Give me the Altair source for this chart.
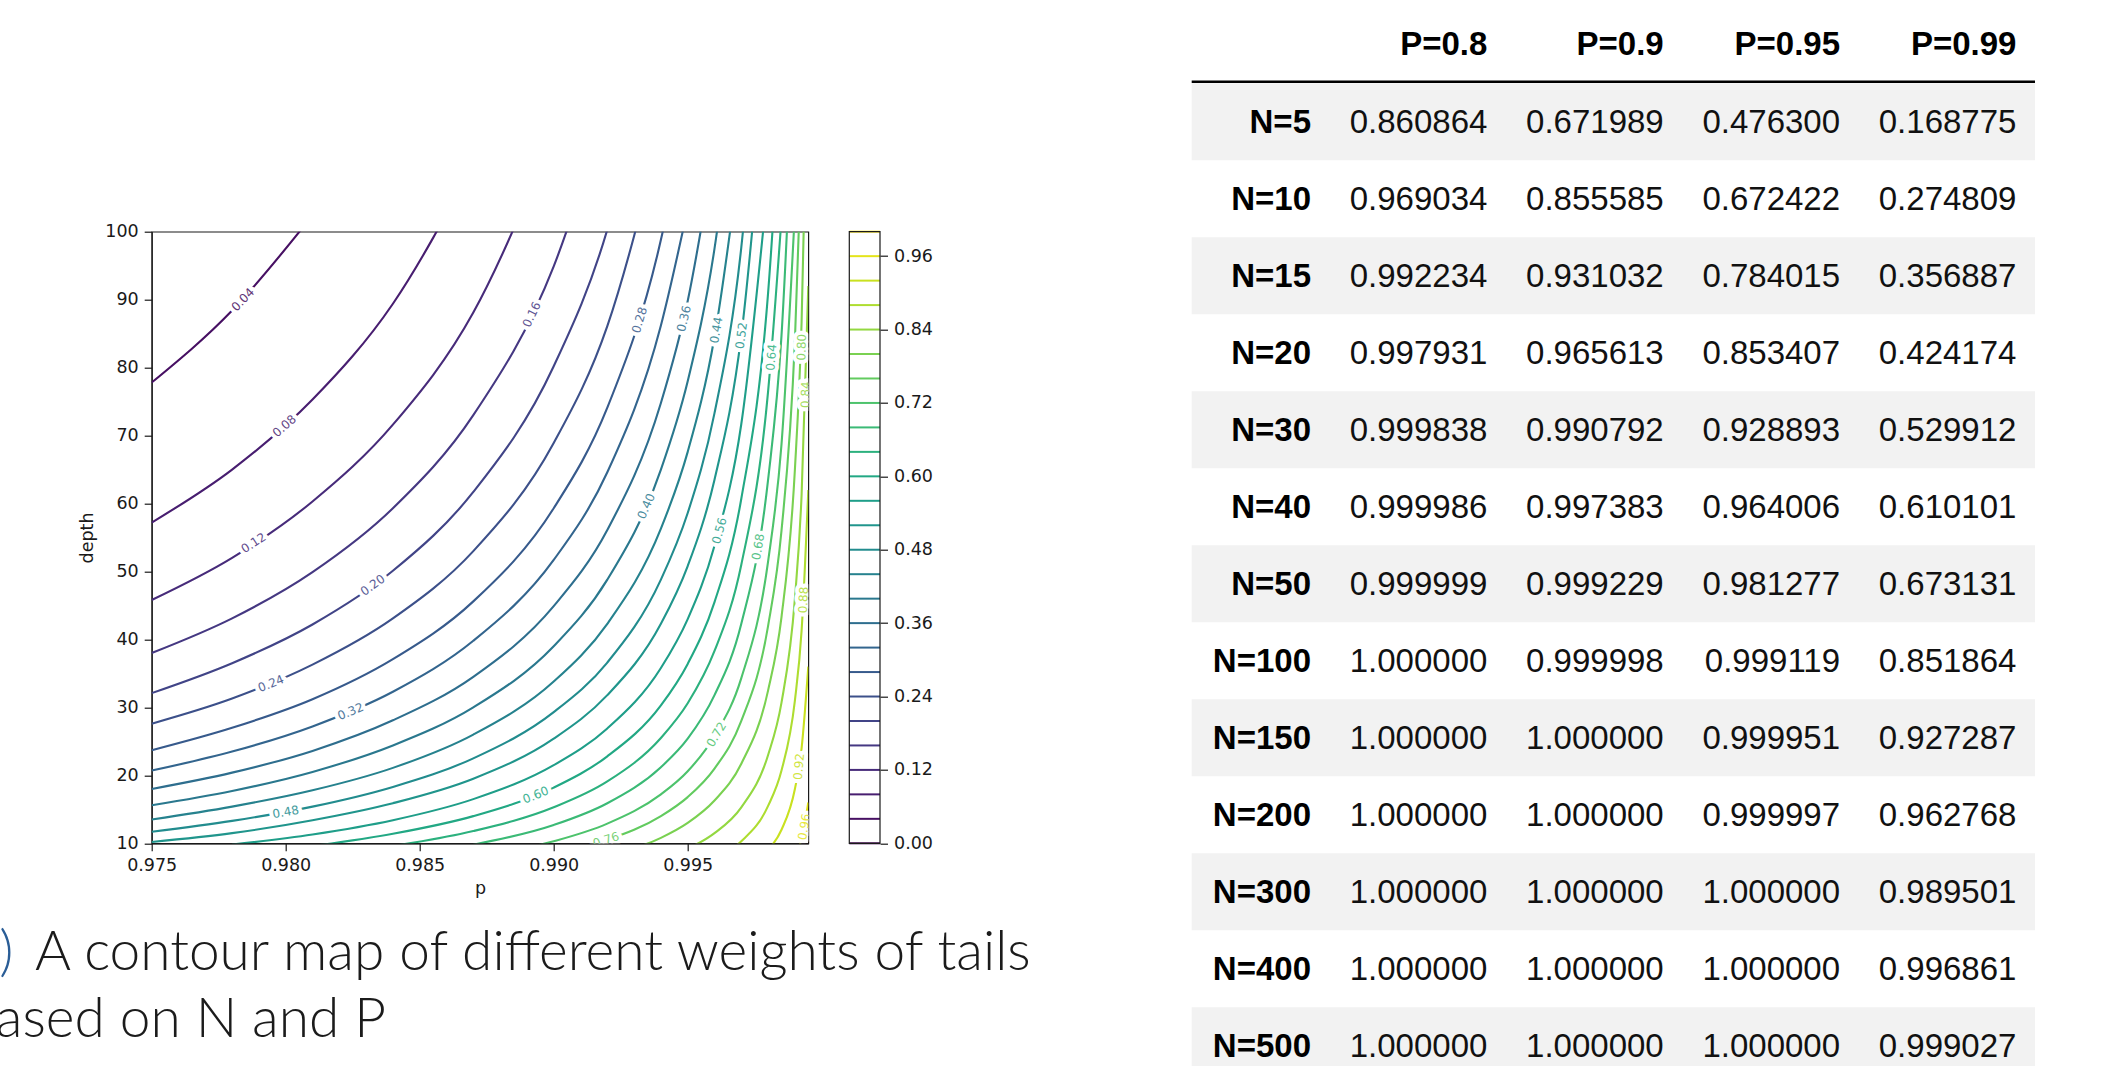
import altair as alt
import pandas as pd

N = None

# ---------------- contour plot data ----------------
P_GRID = [0.975, 0.978, 0.981, 0.984, 0.987, 0.990, 0.992, 0.994, 0.995,
          0.996, 0.997, 0.998, 0.9985, 0.999, 0.99925, 0.9995]

LEVELS = [0.04, 0.08, 0.12, 0.16, 0.20, 0.24, 0.28, 0.32, 0.36, 0.40, 0.44, 0.48,
          0.52, 0.56, 0.60, 0.64, 0.68, 0.72, 0.76, 0.80, 0.84, 0.88, 0.92, 0.96]

CONTOUR_DEPTHS = [
    [77.8, 88.4, 102.4, N, N, N, N, N, N, N, N, N, N, N, N, N],
    [57.2, 65.0, 75.3, 89.4, 110.0, N, N, N, N, N, N, N, N, N, N, N],
    [45.8, 52.0, 60.3, 71.6, 88.1, 114.5, N, N, N, N, N, N, N, N, N, N],
    [38.0, 43.1, 49.9, 59.3, 73.0, 94.9, 118.6, N, N, N, N, N, N, N, N, N],
    [32.1, 36.5, 42.2, 50.1, 61.7, 80.2, 100.3, 133.7, N, N, N, N, N, N, N, N],
    [27.6, 31.3, 36.3, 43.1, 53.0, 68.9, 86.1, 114.8, N, N, N, N, N, N, N, N],
    [23.7, 27.0, 31.2, 37.1, 45.6, 59.3, 74.1, 98.8, 118.6, N, N, N, N, N, N, N],
    [20.7, 23.5, 27.2, 32.3, 39.8, 51.7, 64.6, 86.2, 103.4, N, N, N, N, N, N, N],
    [18.0, 20.4, 23.6, 28.1, 34.5, 44.9, 56.1, 74.8, 89.8, 112.3, N, N, N, N, N, N],
    [15.6, 17.7, 20.5, 24.4, 30.0, 39.0, 48.8, 65.0, 78.0, 97.5, 130.0, N, N, N, N, N],
    [13.5, 15.4, 17.8, 21.1, 26.0, 33.8, 42.3, 56.3, 67.6, 84.5, 112.7, N, N, N, N, N],
    [11.7, 13.3, 15.4, 18.3, 22.5, 29.3, 36.6, 48.8, 58.6, 73.3, 97.7, 146.5, N, N, N, N],
    [10.2, 11.5, 13.4, 15.9, 19.5, 25.4, 31.8, 42.3, 50.8, 63.5, 84.7, 127.0, N, N, N, N],
    [N, 9.8, 11.3, 13.4, 16.5, 21.5, 26.9, 35.8, 43.0, 53.8, 71.7, 107.5, N, N, N, N],
    [N, N, 9.6, 11.4, 14.0, 18.2, 22.8, 30.3, 36.4, 45.5, 60.7, 91.0, 121.3, N, N, N],
    [N, N, N, 9.6, 11.8, 15.3, 19.1, 25.5, 30.6, 38.3, 51.0, 76.5, 102.0, N, N, N],
    [N, N, N, N, 9.8, 12.7, 15.9, 21.2, 25.4, 31.8, 42.3, 63.5, 84.7, 127.0, N, N],
    [N, N, N, N, 7.9, 10.3, 12.9, 17.2, 20.6, 25.8, 34.3, 51.5, 68.7, 103.0, N, N],
    [N, N, N, N, N, 8.4, 10.5, 14.0, 16.8, 21.0, 28.0, 42.0, 56.0, 84.0, 112.0, N],
    [N, N, N, N, N, N, 8.1, 10.8, 13.0, 16.3, 21.7, 32.5, 43.3, 65.0, 86.7, 130.0],
    [N, N, N, N, N, N, N, 7.7, 9.2, 11.5, 15.3, 23.0, 30.7, 46.0, 61.3, 92.0],
    [N, N, N, N, N, N, N, N, N, 7.8, 10.3, 15.5, 20.7, 31.0, 41.3, 62.0],
    [N, N, N, N, N, N, N, N, N, N, N, 9.0, 12.0, 18.0, 24.0, 36.0],
    [N, N, N, N, N, N, N, N, N, N, N, N, N, 8.0, 10.7, 16.0],
]

# inline contour labels: level, position, rotation (degrees counter-clockwise)
LABEL_LEVEL = [0.04, 0.08, 0.12, 0.16, 0.20, 0.24, 0.28, 0.32, 0.36, 0.40, 0.44, 0.48,
               0.52, 0.56, 0.60, 0.64, 0.68, 0.72, 0.76, 0.80, 0.84, 0.88, 0.92, 0.96]
LABEL_P = [0.9784, 0.97995, 0.9788, 0.98918, 0.98325, 0.97945, 0.9932, 0.98242,
           0.99486, 0.99345, 0.99607, 0.9800, 0.9970, 0.99618, 0.98933, 0.99812,
           0.99763, 0.99607, 0.99195, 0.99925, 0.9994, 0.99932, 0.99915, 0.99935]
LABEL_DEPTH = [90.0, 71.4, 54.2, 87.8, 48.0, 33.5, 87.0, 29.4, 87.2, 59.6, 85.5, 14.6,
               84.7, 56.0, 17.1, 81.5, 53.6, 26.0, 10.5, 83.0, 76.0, 45.8, 21.3, 12.4]
LABEL_ROT = [46, 41, 33, 64, 36, 22, 73, 23, 77, 66, 80, 10,
             82, 75, 22, 85, 80, 59, 18, 88, 88, 87, 85, 80]

CBAR_LEVELS = [0.00, 0.04, 0.08, 0.12, 0.16, 0.20, 0.24, 0.28, 0.32, 0.36, 0.40, 0.44, 0.48,
               0.52, 0.56, 0.60, 0.64, 0.68, 0.72, 0.76, 0.80, 0.84, 0.88, 0.92, 0.96, 1.00]
CBAR_TICKS = [0.00, 0.12, 0.24, 0.36, 0.48, 0.60, 0.72, 0.84, 0.96]
X_TICKS = [0.975, 0.980, 0.985, 0.990, 0.995]
Y_TICKS = [10, 20, 30, 40, 50, 60, 70, 80, 90, 100]

# ---------------- table data ----------------
ROW_LABELS = ["N=5", "N=10", "N=15", "N=20", "N=30", "N=40", "N=50",
              "N=100", "N=150", "N=200", "N=300", "N=400", "N=500"]
COL_LABELS = ["P=0.8", "P=0.9", "P=0.95", "P=0.99"]
VAL_P080 = [0.860864, 0.969034, 0.992234, 0.997931, 0.999838, 0.999986, 0.999999,
            1.000000, 1.000000, 1.000000, 1.000000, 1.000000, 1.000000]
VAL_P090 = [0.671989, 0.855585, 0.931032, 0.965613, 0.990792, 0.997383, 0.999229,
            0.999998, 1.000000, 1.000000, 1.000000, 1.000000, 1.000000]
VAL_P095 = [0.476300, 0.672422, 0.784015, 0.853407, 0.928893, 0.964006, 0.981277,
            0.999119, 0.999951, 0.999997, 1.000000, 1.000000, 1.000000]
VAL_P099 = [0.168775, 0.274809, 0.356887, 0.424174, 0.529912, 0.610101, 0.673131,
            0.851864, 0.927287, 0.962768, 0.989501, 0.996861, 0.999027]

CAPTION_TAG = "a)"
CAPTION_LINE1 = "A contour map of different weights of tails"
CAPTION_LINE2 = "based on N and P"

# ---------------- layout (pixels on the page) ----------------
PAGE_W, PAGE_H = 2107, 1066
PLOT_L, PLOT_R, PLOT_T, PLOT_B = 151.7, 808.3, 231.7, 843.3
VW, VH = PLOT_R - PLOT_L, PLOT_B - PLOT_T


def rx(v):
    return v - PLOT_L


def ry(v):
    return v - PLOT_T


AX_FONT = "DejaVu Sans"
INK = "#1a1a1a"

# ---------------- build tables ----------------
rows = []
for lev, depths in zip(LEVELS, CONTOUR_DEPTHS):
    for p, d in zip(P_GRID, depths):
        if d is not None:
            rows.append({"level": lev, "p": p, "depth": d})
contour_df = pd.DataFrame(rows)

label_df = pd.DataFrame({
    "level": LABEL_LEVEL, "p": LABEL_P, "depth": LABEL_DEPTH,
    "angle": [360 - a for a in LABEL_ROT],
})

cbar_df = pd.DataFrame({"level": CBAR_LEVELS, "x0": 0.0, "x1": 1.0})
cbox_df = pd.DataFrame({"x0": [0.0], "x1": [1.0], "y0": [0.0], "y1": [1.0]})

xs = alt.Scale(domain=[0.975, 0.9995], nice=False, zero=False)
ys = alt.Scale(domain=[10, 100], nice=False, zero=False)
cs = alt.Scale(scheme="viridis", domain=[0, 1])

axis_common = dict(labelFont=AX_FONT, labelFontSize=17.5, labelColor=INK,
                   titleFont=AX_FONT, titleFontSize=17.5, titleColor=INK,
                   titleFontWeight="normal", tickColor=INK, tickSize=7.5,
                   tickWidth=1.2, domainColor=INK, domainWidth=1.2, grid=False,
                   labelFlush=False, labelOverlap=False)

lines = alt.Chart(contour_df).mark_line(
    clip=True, strokeWidth=2.1, interpolate="monotone"
).encode(
    x=alt.X("p:Q", scale=xs, axis=alt.Axis(values=X_TICKS, format=".3f", title="p",
                                           labelPadding=6, titlePadding=5, **axis_common)),
    y=alt.Y("depth:Q", scale=ys, axis=alt.Axis(values=Y_TICKS, format="d", title="depth",
                                               labelPadding=6, titlePadding=8, **axis_common)),
    color=alt.Color("level:Q", scale=cs, legend=None),
    detail="level:N",
)

LBL_SIZE = 12

halo = alt.Chart(label_df).mark_text(
    clip=True, font=AX_FONT, fontSize=LBL_SIZE, fill="white", stroke="white",
    strokeWidth=8, strokeJoin="round", align="center", baseline="middle"
).encode(
    x=alt.X("p:Q", scale=xs, axis=None),
    y=alt.Y("depth:Q", scale=ys, axis=None),
    angle=alt.Angle("angle:Q", scale=None),
    text=alt.Text("level:Q", format=".2f"),
)

labels = alt.Chart(label_df).mark_text(
    clip=True, font=AX_FONT, fontSize=LBL_SIZE, align="center", baseline="middle", opacity=0.85
).encode(
    x=alt.X("p:Q", scale=xs, axis=None),
    y=alt.Y("depth:Q", scale=ys, axis=None),
    angle=alt.Angle("angle:Q", scale=None),
    text=alt.Text("level:Q", format=".2f"),
    color=alt.Color("level:Q", scale=cs, legend=None),
)

# ---------------- colorbar ----------------
cbx = alt.Scale(domain=[0, 1], range=[rx(849.3), rx(880.0)])
cby = alt.Scale(domain=[0, 1], range=[VH, 0])

cbar_lines = alt.Chart(cbar_df).mark_rule(strokeWidth=2).encode(
    x=alt.X("x0:Q", scale=cbx, axis=None),
    x2="x1:Q",
    y=alt.Y("level:Q", scale=cby,
            axis=alt.Axis(orient="right", offset=rx(880.0) - VW, values=CBAR_TICKS,
                          format=".2f", title=None, domain=False, labelPadding=6,
                          **{k: v for k, v in axis_common.items() if not k.startswith("domain")})),
    color=alt.Color("level:Q", scale=cs, legend=None),
)

cbar_box = alt.Chart(cbox_df).mark_rect(fillOpacity=0, stroke=INK, strokeWidth=1.2).encode(
    x=alt.X("x0:Q", scale=cbx, axis=None), x2="x1:Q",
    y=alt.Y("y0:Q", scale=cby, axis=None), y2="y1:Q",
)

# ---------------- table ----------------
ROW_H = 77.0
ROW_TOP0 = 83.3          # top edge of first body row
TEXT_OFF = (133.0 - ROW_TOP0) / ROW_H
HEAD_OFF = (55.0 - ROW_TOP0) / ROW_H
RULE_OFF = (81.7 - ROW_TOP0) / ROW_H
TAB_LEFT = (1191.7 - 1311.0) / 176.35
TAB_RIGHT = (2035.0 - 1311.0) / 176.35

tx = alt.Scale(domain=[0, 4], range=[rx(1311.0), rx(2016.4)])
ty = alt.Scale(domain=[0, 13], range=[ry(ROW_TOP0), ry(ROW_TOP0 + 13 * ROW_H)])

stripe_df = pd.DataFrame({
    "r0": [r for r in range(len(ROW_LABELS)) if r % 2 == 0],
})
stripe_df["r1"] = stripe_df["r0"] + 1
stripe_df["c0"] = TAB_LEFT
stripe_df["c1"] = TAB_RIGHT

rule_df = pd.DataFrame({"c0": [TAB_LEFT], "c1": [TAB_RIGHT], "r": [RULE_OFF]})

head_df = pd.DataFrame({"c": [1, 2, 3, 4], "r": HEAD_OFF, "t": COL_LABELS})
rowlab_df = pd.DataFrame({"c": 0, "r": [i + TEXT_OFF for i in range(len(ROW_LABELS))],
                          "t": ROW_LABELS})
vals = []
for ci, col in enumerate([VAL_P080, VAL_P090, VAL_P095, VAL_P099]):
    for ri, v in enumerate(col):
        vals.append({"c": ci + 1, "r": ri + TEXT_OFF, "v": v})
val_df = pd.DataFrame(vals)

TAB_FONT = "Liberation Sans, Arial, Helvetica, sans-serif"
TAB_SIZE = 33

stripes = alt.Chart(stripe_df).mark_rect(color="#f2f2f2").encode(
    x=alt.X("c0:Q", scale=tx, axis=None), x2="c1:Q",
    y=alt.Y("r0:Q", scale=ty, axis=None), y2="r1:Q",
)
head_rule = alt.Chart(rule_df).mark_rule(color="#000000", strokeWidth=2.6).encode(
    x=alt.X("c0:Q", scale=tx, axis=None), x2="c1:Q",
    y=alt.Y("r:Q", scale=ty, axis=None),
)
head_text = alt.Chart(head_df).mark_text(
    font=TAB_FONT, fontSize=TAB_SIZE, fontWeight="bold", align="right",
    baseline="alphabetic", color="#000000"
).encode(
    x=alt.X("c:Q", scale=tx, axis=None), y=alt.Y("r:Q", scale=ty, axis=None), text="t:N"
)
row_text = alt.Chart(rowlab_df).mark_text(
    font=TAB_FONT, fontSize=TAB_SIZE, fontWeight="bold", align="right",
    baseline="alphabetic", color="#000000"
).encode(
    x=alt.X("c:Q", scale=tx, axis=None), y=alt.Y("r:Q", scale=ty, axis=None), text="t:N"
)
val_text = alt.Chart(val_df).mark_text(
    font=TAB_FONT, fontSize=TAB_SIZE, align="right", baseline="alphabetic", color="#111111"
).encode(
    x=alt.X("c:Q", scale=tx, axis=None), y=alt.Y("r:Q", scale=ty, axis=None),
    text=alt.Text("v:Q", format=".6f"),
)

# ---------------- caption (page pixel scale) ----------------
px = alt.Scale(domain=[0, PAGE_W], range=[-PLOT_L, PAGE_W - PLOT_L])
py = alt.Scale(domain=[0, PAGE_H], range=[-PLOT_T, PAGE_H - PLOT_T])
CAP_FONT = "Lato"
CAP_SIZE = 55

cap_tag = alt.Chart(pd.DataFrame({"x": [13.5], "y": [970.0], "t": [CAPTION_TAG]})).mark_text(
    font=CAP_FONT, fontSize=CAP_SIZE, fontWeight=300, align="right", baseline="alphabetic",
    color="#2a5d96"
).encode(x=alt.X("x:Q", scale=px, axis=None), y=alt.Y("y:Q", scale=py, axis=None), text="t:N")

cap_1 = alt.Chart(pd.DataFrame({"x": [35.0], "y": [970.0], "t": [CAPTION_LINE1]})).mark_text(
    font=CAP_FONT, fontSize=CAP_SIZE, fontWeight=300, align="left", baseline="alphabetic",
    color="#1b1b1b"
).encode(x=alt.X("x:Q", scale=px, axis=None), y=alt.Y("y:Q", scale=py, axis=None), text="t:N")

cap_2 = alt.Chart(pd.DataFrame({"x": [386.0], "y": [1036.5], "t": [CAPTION_LINE2]})).mark_text(
    font=CAP_FONT, fontSize=CAP_SIZE, fontWeight=300, align="right", baseline="alphabetic",
    color="#1b1b1b"
).encode(x=alt.X("x:Q", scale=px, axis=None), y=alt.Y("y:Q", scale=py, axis=None), text="t:N")

chart = alt.layer(
    stripes, head_rule, head_text, row_text, val_text,
    lines, halo, labels, cbar_lines, cbar_box,
    cap_tag, cap_1, cap_2,
).resolve_scale(
    x="independent", y="independent"
).properties(
    width=VW, height=VH,
    autosize=alt.AutoSizeParams(type="none"),
    padding={"left": PLOT_L, "top": PLOT_T, "right": PAGE_W - PLOT_R, "bottom": PAGE_H - PLOT_B},
    background="white",
).configure_view(
    stroke=INK, strokeWidth=1.2
)

chart.save("out.html", embed_options={"renderer": "svg", "actions": False})
